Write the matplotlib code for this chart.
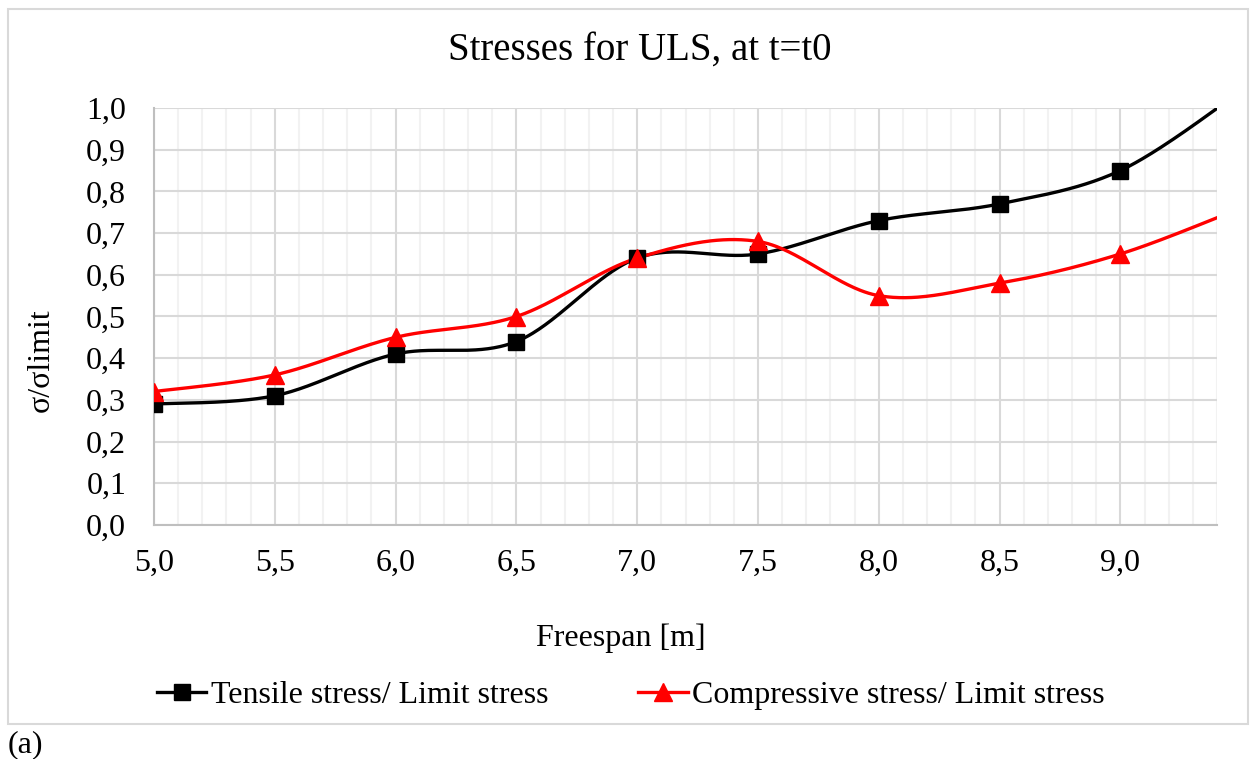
import numpy as np
import matplotlib
matplotlib.use("Agg")
import matplotlib.pyplot as plt
from matplotlib.patches import Rectangle
from matplotlib.ticker import MultipleLocator, FuncFormatter

plt.rcParams['font.family'] = ['Liberation Serif', 'DejaVu Serif']

# Freespan values [m] and stress ratios
freespan = [5.0, 5.5, 6.0, 6.5, 7.0, 7.5, 8.0, 8.5, 9.0, 9.5]
tensile = [0.29, 0.31, 0.41, 0.44, 0.64, 0.65, 0.73, 0.77, 0.85, 1.04]
compressive = [0.32, 0.36, 0.45, 0.50, 0.64, 0.68, 0.55, 0.58, 0.65, 0.76]

title = "Stresses for ULS, at t=t0"
xlabel = "Freespan [m]"
ylabel = "σ/σlimit"
labels = ["Tensile stress/ Limit stress", "Compressive stress/ Limit stress"]


def smooth(xs, ys, n=60):
    """Bezier smoothing through every point (Catmull-Rom style control points)."""
    p = np.column_stack([xs, ys]).astype(float)
    out = []
    for i in range(len(p) - 1):
        p0 = p[i - 1] if i > 0 else p[i]
        p1, p2 = p[i], p[i + 1]
        p3 = p[i + 2] if i + 2 < len(p) else p[i + 1]
        c1 = p1 + (p2 - p0) / 6.0
        c2 = p2 - (p3 - p1) / 6.0
        t = np.linspace(0, 1, n)[:, None]
        seg = ((1 - t) ** 3) * p1 + 3 * ((1 - t) ** 2) * t * c1 + 3 * (1 - t) * t ** 2 * c2 + t ** 3 * p2
        out.append(seg if i == 0 else seg[1:])
    s = np.vstack(out)
    return s[:, 0], s[:, 1]


fig = plt.figure(figsize=(12.5, 7.59), dpi=100)
ax = fig.add_axes([154 / 1250, 1 - 525 / 759, (1217 - 154) / 1250, (525 - 108) / 759])

# chart frame
fig.patches.append(Rectangle((8 / 1250, 1 - 724 / 759), 1240 / 1250, 715 / 759,
                             transform=fig.transFigure, fill=False,
                             edgecolor="#d9d9d9", linewidth=1.5))

series = [(tensile, "black", "s", 12), (compressive, "#ff0000", "^", 12.5)]
handles = []
for (vals, col, mk, ms), lab in zip(series, labels):
    sx, sy = smooth(freespan, vals)
    ax.plot(sx, sy, color=col, linewidth=2.4, zorder=3)
    ax.plot(freespan, vals, linestyle="none", marker=mk, color=col,
            markersize=ms, zorder=4)
    h, = ax.plot([], [], color=col, linewidth=2.4, marker=mk, markersize=ms, label=lab)
    handles.append(h)

ax.set_xlim(5.0, 9.4)
ax.set_ylim(0.0, 1.0)
ax.xaxis.set_major_locator(MultipleLocator(0.5))
ax.xaxis.set_minor_locator(MultipleLocator(0.1))
ax.yaxis.set_major_locator(MultipleLocator(0.1))
fmt = FuncFormatter(lambda v, _: f"{v:.1f}".replace(".", ","))
ax.xaxis.set_major_formatter(fmt)
ax.yaxis.set_major_formatter(fmt)

ax.grid(which="major", color="#d9d9d9", linewidth=1.5)
ax.grid(which="minor", axis="x", color="#f2f2f2", linewidth=1.5)
ax.set_axisbelow(True)
for side in ["top", "right"]:
    ax.spines[side].set_visible(False)
for side in ["left", "bottom"]:
    ax.spines[side].set_color("#bfbfbf")
    ax.spines[side].set_linewidth(1.5)
ax.tick_params(which="both", length=0, labelsize=23)
ax.tick_params(axis="y", pad=20)
ax.tick_params(axis="x", pad=17)

fig.text(640 / 1250, 1 - 50 / 759, title, ha="center", va="center", fontsize=28)
fig.text(621 / 1250, 1 - 638 / 759, xlabel, ha="center", va="center", fontsize=23)
fig.text(41 / 1250, 1 - 360 / 759, ylabel, ha="center", va="center", rotation=90, fontsize=23)

fig.legend(handles=handles, loc="center", bbox_to_anchor=(631 / 1250, 1 - 695 / 759),
           ncol=2, frameon=False, fontsize=23, numpoints=1,
           handlelength=1.55, handletextpad=0.15, columnspacing=2.8)

fig.text(8 / 1250, 1 - 745 / 759, "(a)", ha="left", va="center", fontsize=23)

fig.savefig("out.png", dpi=100)
